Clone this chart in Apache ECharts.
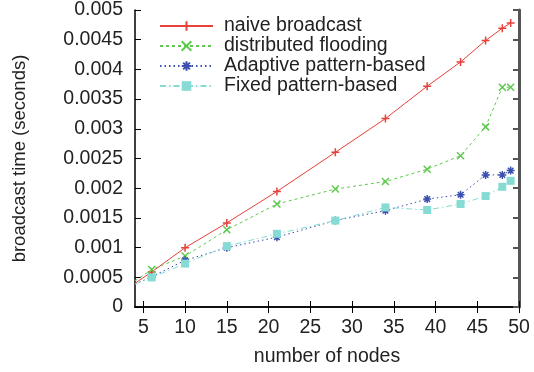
<!DOCTYPE html>
<html>
<head>
<meta charset="utf-8">
<script src="https://cdn.jsdelivr.net/npm/echarts@6/dist/echarts.min.js"></script>
<style>
  html, body { margin: 0; padding: 0; background: #fff; }
  #chart { width: 534px; height: 372px; }
</style>
</head>
<body>
<div id="chart"></div>
<script>
// --- data ---
const nodes = [4, 6, 10, 15, 21, 28, 34, 39, 43, 46, 48, 49];
const naiveBroadcast = [0.0004, 0.00059, 0.000998, 0.001416, 0.001945, 0.002604, 0.003172, 0.003717, 0.004125, 0.004487, 0.004693, 0.004783];
const distributedFlooding = [0.00044, 0.00063, 0.000858, 0.0013, 0.001734, 0.001985, 0.002112, 0.00232, 0.002547, 0.003032, 0.003701, 0.003701];
const adaptivePattern = [0.000385, 0.00051, 0.000786, 0.000998, 0.001176, 0.001455, 0.001622, 0.001817, 0.00189, 0.002224, 0.002224, 0.002296];
const fixedPattern = [0.000385, 0.000497, 0.00073, 0.001025, 0.001232, 0.001455, 0.001677, 0.001633, 0.001734, 0.001868, 0.002023, 0.002124];
const xTicks = [5, 10, 15, 20, 25, 30, 35, 40, 45, 50];

const FONT = 'Liberation Sans, Arial, sans-serif';

// gnuplot style point types
const SYM_PLUS = 'path://M0,5L10,5M5,0L5,10';
const SYM_CROSS = 'path://M1,1L9,9M1,9L9,1';
const SYM_STAR = 'path://M0,5L10,5M5,0L5,10M1.5,1.5L8.5,8.5M1.5,8.5L8.5,1.5';

const toPairs = (vals) => nodes.map((x, i) => {
  // first point sits on the left border: line only, no marker
  if (i === 0) return { value: [x, vals[i]], symbol: 'none' };
  return [x, vals[i]];
});

const makeSeries = (name, vals, color, lineType, symbol, size, fill) => ({
  name: name,
  type: 'line',
  data: toPairs(vals),
  symbol: symbol,
  symbolSize: size,
  showAllSymbol: true,
  clip: true,
  lineStyle: { color: color, width: 1, type: lineType },
  itemStyle: {
    color: color,
    borderColor: color,
    borderWidth: fill ? 0 : 1.5
  },
  emphasis: { disabled: true },
  z: 3
});

const chart = echarts.init(document.getElementById('chart'), null, { renderer: 'canvas' });

const axisText = { color: '#222', fontSize: 19.5, fontFamily: FONT };

chart.setOption({
  animation: false,
  backgroundColor: '#fff',
  grid: { left: 135, top: 9, right: 15, bottom: 64, show: false },
  legend: {
    orient: 'vertical',
    left: 159,
    top: 16,
    padding: 0,
    itemGap: 0,
    itemWidth: 53,
    itemHeight: 12,
    textStyle: { fontSize: 19.5, lineHeight: 20, color: '#222', fontFamily: FONT, padding: [0, 0, 0, 6] },
    data: ['naive broadcast', 'distributed flooding', 'Adaptive pattern-based', 'Fixed pattern-based']
  },
  xAxis: [
    {
      type: 'value',
      min: 4,
      max: 50,
      name: 'number of nodes',
      nameLocation: 'middle',
      nameGap: 40,
      nameTextStyle: axisText,
      axisLine: { lineStyle: { color: '#000', width: 1.5 } },
      axisTick: { inside: true, length: 6, customValues: xTicks, lineStyle: { color: '#000' } },
      axisLabel: { customValues: xTicks, margin: 11, ...axisText },
      splitLine: { show: false }
    },
    {
      type: 'value',
      position: 'top',
      min: 4,
      max: 50,
      axisLine: { lineStyle: { color: '#000', width: 1.5 } },
      axisTick: { inside: true, length: 6, customValues: xTicks, lineStyle: { color: '#000' } },
      axisLabel: { show: false },
      splitLine: { show: false }
    }
  ],
  yAxis: [
    {
      type: 'value',
      min: 0,
      max: 0.005,
      interval: 0.0005,
      name: 'broadcast time (seconds)',
      nameLocation: 'middle',
      nameGap: 106,
      nameTextStyle: { ...axisText, fontSize: 18.5 },
      axisLine: { show: true, lineStyle: { color: '#000', width: 1.5 } },
      axisTick: { show: true, inside: true, length: 6, lineStyle: { color: '#000' } },
      axisLabel: {
        margin: 12,
        ...axisText,
        formatter: (v) => String(+v.toFixed(4))
      },
      splitLine: { show: false }
    },
    {
      type: 'value',
      position: 'right',
      min: 0,
      max: 0.005,
      interval: 0.0005,
      axisLine: { show: true, lineStyle: { color: '#555', width: 3 } },
      axisTick: { show: true, inside: true, length: 6, lineStyle: { color: '#555', width: 2 } },
      axisLabel: { show: false },
      splitLine: { show: false }
    }
  ],
  series: [
    makeSeries('naive broadcast', naiveBroadcast, '#e8403a', 'solid', SYM_PLUS, 8, false),
    makeSeries('distributed flooding', distributedFlooding, '#5ec94e', [3, 3], SYM_CROSS, 7, false),
    makeSeries('Adaptive pattern-based', adaptivePattern, '#3a4fae', [1.5, 3], SYM_STAR, 8, false),
    makeSeries('Fixed pattern-based', fixedPattern, '#86dcd4', [6, 3, 1.5, 3], 'rect', 8, true)
  ]
});
</script>
</body>
</html>
